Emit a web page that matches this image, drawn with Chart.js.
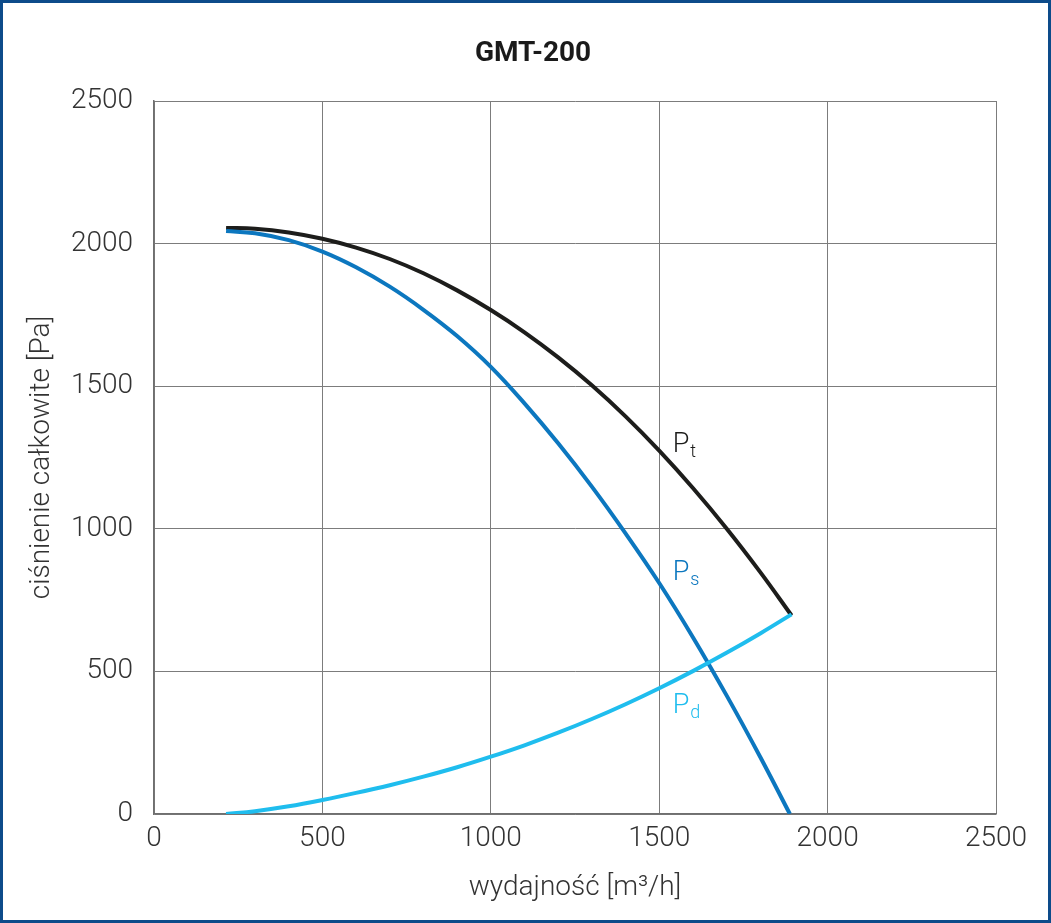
<!DOCTYPE html>
<html>
<head>
<meta charset="utf-8">
<script src="https://cdn.jsdelivr.net/npm/chart.js@4.4.1/dist/chart.umd.min.js"></script>
<style>
  html, body { margin: 0; padding: 0; background: #ffffff; }
  #wrap { width: 1051px; height: 923px; position: relative; }
  canvas { display: block; }
</style>
</head>
<body>
<div id="wrap"><canvas id="c" width="1051" height="923"></canvas></div>
<script>
// ---- data ----
const chartTitle = 'GMT-200';
const xTitle = 'wydajność [m³/h]';
const yTitle = 'ciśnienie całkowite [Pa]';
const xTicks = [0, 500, 1000, 1500, 2000, 2500];
const yTicks = [0, 500, 1000, 1500, 2000, 2500];

const seriesNames = ['Pt', 'Ps', 'Pd'];

// flow rate Q [m3/h] and pressures [Pa]
const ptQ = [214, 300, 400, 500, 600, 700, 800, 900, 1000, 1100, 1200, 1300, 1400, 1500, 1600, 1700, 1800, 1893];
const ptP = [2055, 2052, 2039, 2017, 1986, 1946, 1896, 1836, 1767, 1689, 1601, 1503, 1394, 1274, 1143, 1001, 848, 696];

const psQ = [214, 300, 400, 500, 600, 700, 800, 900, 1000, 1100, 1200, 1300, 1400, 1500, 1600, 1700, 1800, 1888];
const psP = [2044, 2036, 2012, 1972, 1917, 1849, 1768, 1676, 1568, 1440, 1300, 1148, 984, 810, 620, 416, 200, 0];

const pdQ = [214, 300, 400, 500, 600, 700, 800, 900, 1000, 1100, 1200, 1300, 1400, 1500, 1600, 1700, 1800, 1893];
const pdP = [0, 10, 27, 49, 74, 101, 131, 164, 201, 241, 285, 333, 385, 441, 501, 565, 633, 700];

// label anchors (data coordinates) for the curve names
const labelQ = [1540, 1540, 1540];
const labelP = [1269, 820, 354];

// ---- styling ----
const colors = ['#1d1d1b', '#0c77bf', '#1fbdee'];
const FONT = 'Roboto, "Liberation Sans", sans-serif';

function pts(qs, ps) { return qs.map((q, i) => ({ x: q, y: ps[i] })); }

const decor = {
  id: 'decor',
  beforeDraw(chart) {
    const ctx = chart.ctx;
    ctx.save();
    ctx.fillStyle = '#ffffff';
    ctx.fillRect(0, 0, chart.width, chart.height);
    ctx.restore();
  },
  afterDatasetsDraw(chart) {
    const ctx = chart.ctx;
    const xs = chart.scales.x, ys = chart.scales.y;
    ctx.save();
    seriesNames.forEach((name, i) => {
      const px = xs.getPixelForValue(labelQ[i]);
      const py = ys.getPixelForValue(labelP[i]);
      ctx.fillStyle = colors[i];
      ctx.textAlign = 'left';
      ctx.textBaseline = 'alphabetic';
      ctx.font = '300 27px ' + FONT;
      ctx.fillText(name[0], px, py);
      const w = ctx.measureText(name[0]).width;
      ctx.font = '300 18px ' + FONT;
      ctx.fillText(name.slice(1), px + w + 1, py + 5);
    });
    ctx.restore();
  },
  afterDraw(chart) {
    const ctx = chart.ctx;
    ctx.save();
    ctx.fillStyle = '#1a1a1a';
    ctx.font = 'bold 28px ' + FONT;
    ctx.textAlign = 'center';
    ctx.textBaseline = 'middle';
    ctx.fillText(chartTitle, 533, 54);
    ctx.strokeStyle = '#0d4b8a';
    ctx.lineWidth = 3;
    ctx.strokeRect(1.5, 1.5, chart.width - 3, chart.height - 3);
    ctx.restore();
  }
};

const ds = [
  { label: 'Pd', data: pts(pdQ, pdP), borderColor: colors[2], order: 1 },
  { label: 'Ps', data: pts(psQ, psP), borderColor: colors[1], order: 2 },
  { label: 'Pt', data: pts(ptQ, ptP), borderColor: colors[0], order: 3 }
].map(d => Object.assign(d, {
  showLine: true,
  borderWidth: 4,
  pointRadius: 0,
  pointHoverRadius: 0,
  fill: false,
  tension: 0.4
}));

const numFmt = v => String(v);

new Chart(document.getElementById('c'), {
  type: 'scatter',
  data: { datasets: ds },
  options: {
    responsive: false,
    animation: false,
    devicePixelRatio: 1,
    layout: { padding: { top: 101, right: 55, left: 0, bottom: 0 } },
    plugins: {
      legend: { display: false },
      title: { display: false },
      tooltip: { enabled: false }
    },
    scales: {
      x: {
        type: 'linear',
        min: 0, max: 2500,
        afterBuildTicks(scale) { scale.ticks = xTicks.map(v => ({ value: v })); },
        afterFit(scale) { scale.height = 109; },
        ticks: { callback: numFmt, color: '#333333', padding: 8, font: { family: FONT, size: 28, weight: '300' }, maxRotation: 0 },
        grid: { color: '#7c7c7c', lineWidth: 1, drawTicks: false },
        border: { color: '#6f6f6f', width: 1.5 },
        title: { display: true, text: xTitle, color: '#333333', padding: { top: 0, bottom: 18 }, font: { family: FONT, size: 28, weight: '300' } }
      },
      y: {
        type: 'linear',
        min: 0, max: 2500,
        afterBuildTicks(scale) { scale.ticks = yTicks.map(v => ({ value: v })); },
        afterFit(scale) { scale.width = 154; },
        ticks: { callback: numFmt, color: '#333333', padding: 21, font: { family: FONT, size: 28, weight: '300' } },
        grid: { color: '#7c7c7c', lineWidth: 1, drawTicks: false },
        border: { color: '#6f6f6f', width: 1.5 },
        title: { display: true, text: yTitle, color: '#333333', padding: { top: 25, bottom: 0 }, font: { family: FONT, size: 28, weight: '300' } }
      }
    }
  },
  plugins: [decor]
});
</script>
</body>
</html>
